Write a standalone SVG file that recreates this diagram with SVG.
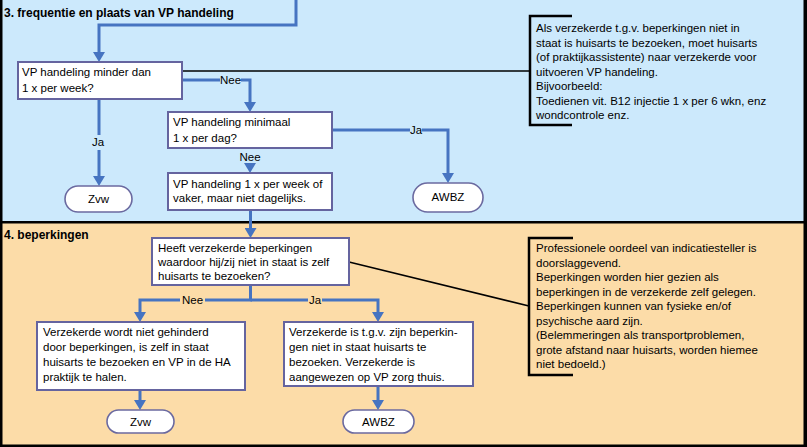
<svg xmlns="http://www.w3.org/2000/svg" width="807" height="447" viewBox="0 0 807 447">
<style>
.t{font-family:"Liberation Sans",Arial,sans-serif;font-size:11.5px;fill:#000}
.h{font-family:"Liberation Sans",Arial,sans-serif;font-size:12px;font-weight:bold;fill:#000}
.c{text-anchor:middle}
.box{fill:#fff;stroke:#65649f;stroke-width:2}
.term{fill:#fff;stroke:#6b6aa0;stroke-width:1.6}
.con{fill:none;stroke:#4674c1;stroke-width:3;marker-end:url(#ah)}
.conn{fill:none;stroke:#4674c1;stroke-width:3}
.ann{fill:none;stroke:#000;stroke-width:1.5}
.brk{fill:none;stroke:#000;stroke-width:2.5}
.bgb{fill:#cce9fc}
.bgo{fill:#fcdca8}
</style>
<defs>
<marker id="ah" markerUnits="userSpaceOnUse" viewBox="0 0 10 12" markerWidth="10" markerHeight="12" refX="6" refY="6" orient="auto">
<path d="M0,0 L10,6 L0,12 z" fill="#4674c1"/>
</marker>
</defs>
<g id="panels">
<rect x="0" y="0" width="807" height="447" fill="#000"/>
<rect x="2.5" y="0" width="801" height="221" fill="#cce9fc"/>
<rect x="2.5" y="223.5" width="801" height="221" fill="#fcdca8"/>
<text class="h" x="4" y="17">3. frequentie en plaats van VP handeling</text>
<text class="h" x="4" y="239">4. beperkingen</text>
</g>
<g id="connectors">
<path class="con" d="M296,0 V25 H99 V58"/>
<path class="conn" d="M182,80 H220"/>
<path class="con" d="M241,80 H250 V108"/>
<text class="t c" x="230.5" y="84">Nee</text>
<path class="conn" d="M99,99 V135"/>
<path class="con" d="M99,150 V182"/>
<text class="t c" x="98" y="146">Ja</text>
<text class="t c" x="250" y="161">Nee</text>
<path class="con" d="M250,163 V169"/>
<path class="conn" d="M332,130 H410"/>
<path class="con" d="M422,130 H448 V179"/>
<text class="t c" x="416" y="134">Ja</text>
<path class="con" d="M250.5,210 V234"/>
<path class="conn" d="M250.5,285 V300 H205"/>
<path class="con" d="M180,300 H140 V318"/>
<path class="conn" d="M250.5,300 H308"/>
<path class="con" d="M322,300 H378 V318"/>
<text class="t c" x="192.5" y="304">Nee</text>
<text class="t c" x="315" y="304">Ja</text>
<path class="con" d="M140,390 V406"/>
<path class="con" d="M378,386 V406"/>
<path class="ann" d="M182,71 H530"/>
<path class="ann" d="M349,262 L529,306"/>
</g>
<g id="q1">
<rect class="box" x="18" y="62" width="164" height="37"/>
<text class="t" x="22" y="76">VP handeling minder dan</text>
<text class="t" x="22" y="92">1 x per week?</text>
</g>
<g id="q2">
<rect class="box" x="168" y="112" width="164" height="36"/>
<text class="t" x="173" y="126">VP handeling minimaal</text>
<text class="t" x="173" y="142">1 x per dag?</text>
</g>
<g id="r1">
<rect class="box" x="168" y="173" width="164" height="37"/>
<text class="t" x="173" y="188">VP handeling 1 x per week of</text>
<text class="t" x="173" y="202">vaker, maar niet dagelijks.</text>
</g>
<g id="zvw1">
<rect class="term" x="65" y="186" width="67" height="26" rx="13"/>
<text class="t c" x="98.5" y="203">Zvw</text>
</g>
<g id="awbz1">
<rect class="term" x="413" y="183" width="70" height="29" rx="14.5"/>
<text class="t c" x="448" y="201">AWBZ</text>
</g>
<g id="note1">
<path class="brk" d="M572,16 H530 V125 H572"/>
<text class="t" x="536" y="32">Als verzekerde t.g.v. beperkingen niet in</text>
<text class="t" x="536" y="46.5">staat is huisarts te bezoeken, moet huisarts</text>
<text class="t" x="536" y="61">(of praktijkassistente) naar verzekerde voor</text>
<text class="t" x="536" y="75.5">uitvoeren VP handeling.</text>
<text class="t" x="536" y="90">Bijvoorbeeld:</text>
<text class="t" x="536" y="104.5">Toedienen vit. B12 injectie 1 x per 6 wkn, enz</text>
<text class="t" x="536" y="119">wondcontrole enz.</text>
</g>
<g id="q3">
<rect class="box" x="152" y="238" width="197" height="47"/>
<text class="t" x="158" y="252">Heeft verzekerde beperkingen</text>
<text class="t" x="158" y="266">waardoor hij/zij niet in staat is zelf</text>
<text class="t" x="158" y="280">huisarts te bezoeken?</text>
</g>
<g id="r2">
<rect class="box" x="37" y="322" width="208" height="68"/>
<text class="t" x="43" y="336">Verzekerde wordt niet gehinderd</text>
<text class="t" x="43" y="351">door beperkingen, is zelf in staat</text>
<text class="t" x="43" y="366">huisarts te bezoeken en VP in de HA</text>
<text class="t" x="43" y="381">praktijk te halen.</text>
</g>
<g id="r3">
<rect class="box" x="284" y="322" width="189" height="64"/>
<text class="t" x="289" y="336">Verzekerde is t.g.v. zijn beperkin-</text>
<text class="t" x="289" y="351">gen niet in staat huisarts te</text>
<text class="t" x="289" y="366">bezoeken. Verzekerde is</text>
<text class="t" x="289" y="381">aangewezen op VP zorg thuis.</text>
</g>
<g id="zvw2">
<rect class="term" x="107" y="410" width="67" height="23" rx="11.5"/>
<text class="t c" x="140.5" y="425.5">Zvw</text>
</g>
<g id="awbz2">
<rect class="term" x="343" y="410" width="71" height="23" rx="11.5"/>
<text class="t c" x="378.5" y="425.5">AWBZ</text>
</g>
<g id="note2">
<path class="brk" d="M573,238 H529 V375 H573"/>
<text class="t" x="536" y="252">Professionele oordeel van indicatiesteller is</text>
<text class="t" x="536" y="266.5">doorslaggevend.</text>
<text class="t" x="536" y="281">Beperkingen worden hier gezien als</text>
<text class="t" x="536" y="295.5">beperkingen in de verzekerde zelf gelegen.</text>
<text class="t" x="536" y="310">Beperkingen kunnen van fysieke en/of</text>
<text class="t" x="536" y="324.5">psychische aard zijn.</text>
<text class="t" x="536" y="339">(Belemmeringen als transportproblemen,</text>
<text class="t" x="536" y="353.5">grote afstand naar huisarts, worden hiemee</text>
<text class="t" x="536" y="368">niet bedoeld.)</text>
</g>
</svg>
